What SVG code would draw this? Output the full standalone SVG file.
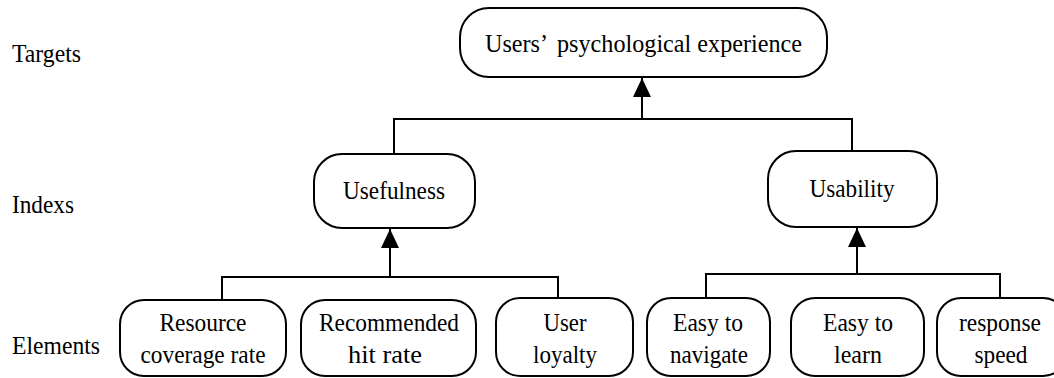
<svg xmlns="http://www.w3.org/2000/svg" width="1054" height="378" viewBox="0 0 1054 378">
<style>
.box{fill:#fff;stroke:#000;stroke-width:2}
text{font-family:'Liberation Serif','Times New Roman',serif;font-size:26px;fill:#000}
.t{text-anchor:middle}
.c{fill:none;stroke:#000;stroke-width:2}
</style>
<defs>
<marker id="arr" markerUnits="userSpaceOnUse" markerWidth="19" markerHeight="18" refX="19" refY="9" orient="auto" viewBox="0 0 19 18">
<path d="M0,0 L19,9 L0,18 z" fill="#000"/>
</marker>
</defs>
<rect width="1054" height="378" fill="#fff"/>
<g id="row-labels">
<text x="12" y="62" textLength="69" lengthAdjust="spacingAndGlyphs">Targets</text>
<text x="12" y="213" textLength="62" lengthAdjust="spacingAndGlyphs">Indexs</text>
<text x="12" y="354" textLength="88" lengthAdjust="spacingAndGlyphs">Elements</text>
</g>
<g id="connectors">
<path class="c" d="M394,153 V119 H852 V151"/>
<path class="c" d="M642,119 V78" marker-end="url(#arr)"/>
<path class="c" d="M222,300 V277 H558 V298"/>
<path class="c" d="M390,277 V229" marker-end="url(#arr)"/>
<path class="c" d="M706,298 V274 H1000 V298"/>
<path class="c" d="M857,274 V228" marker-end="url(#arr)"/>
</g>
<g id="n-target">
<rect class="box" x="460" y="8" width="367" height="69" rx="29"/>
<text x="485" y="52" textLength="63" lengthAdjust="spacingAndGlyphs">Users’</text>
<text x="557" y="52" textLength="245" lengthAdjust="spacingAndGlyphs">psychological experience</text>
</g>
<g id="n-usefulness">
<rect class="box" x="314" y="154" width="161" height="74" rx="28"/>
<text class="t" x="394" y="199" textLength="102" lengthAdjust="spacingAndGlyphs">Usefulness</text>
</g>
<g id="n-usability">
<rect class="box" x="768" y="151" width="169" height="76" rx="28"/>
<text class="t" x="852" y="197" textLength="85" lengthAdjust="spacingAndGlyphs">Usability</text>
</g>
<g id="n-resource">
<rect class="box" x="120" y="300" width="166" height="76" rx="24"/>
<text class="t" x="203" y="331" textLength="87" lengthAdjust="spacingAndGlyphs">Resource</text>
<text class="t" x="203" y="363" textLength="125" lengthAdjust="spacingAndGlyphs">coverage rate</text>
</g>
<g id="n-recommended">
<rect class="box" x="301" y="300" width="175" height="76" rx="24"/>
<text class="t" x="389" y="331" textLength="140" lengthAdjust="spacingAndGlyphs">Recommended</text>
<text class="t" x="385" y="363" textLength="74" lengthAdjust="spacingAndGlyphs">hit rate</text>
</g>
<g id="n-loyalty">
<rect class="box" x="496" y="298" width="137" height="78" rx="24"/>
<text class="t" x="565" y="331" textLength="43" lengthAdjust="spacingAndGlyphs">User</text>
<text class="t" x="565" y="363" textLength="64" lengthAdjust="spacingAndGlyphs">loyalty</text>
</g>
<g id="n-navigate">
<rect class="box" x="647" y="298" width="123" height="78" rx="24"/>
<text class="t" x="708" y="331" textLength="70" lengthAdjust="spacingAndGlyphs">Easy to</text>
<text class="t" x="709" y="363" textLength="78" lengthAdjust="spacingAndGlyphs">navigate</text>
</g>
<g id="n-learn">
<rect class="box" x="791" y="298" width="133" height="78" rx="24"/>
<text class="t" x="858" y="331" textLength="70" lengthAdjust="spacingAndGlyphs">Easy to</text>
<text class="t" x="858" y="363" textLength="48" lengthAdjust="spacingAndGlyphs">learn</text>
</g>
<g id="n-speed">
<rect class="box" x="937" y="298" width="130" height="78" rx="24"/>
<text class="t" x="1000" y="331" textLength="82" lengthAdjust="spacingAndGlyphs">response</text>
<text class="t" x="1001" y="363" textLength="53" lengthAdjust="spacingAndGlyphs">speed</text>
</g>
</svg>
